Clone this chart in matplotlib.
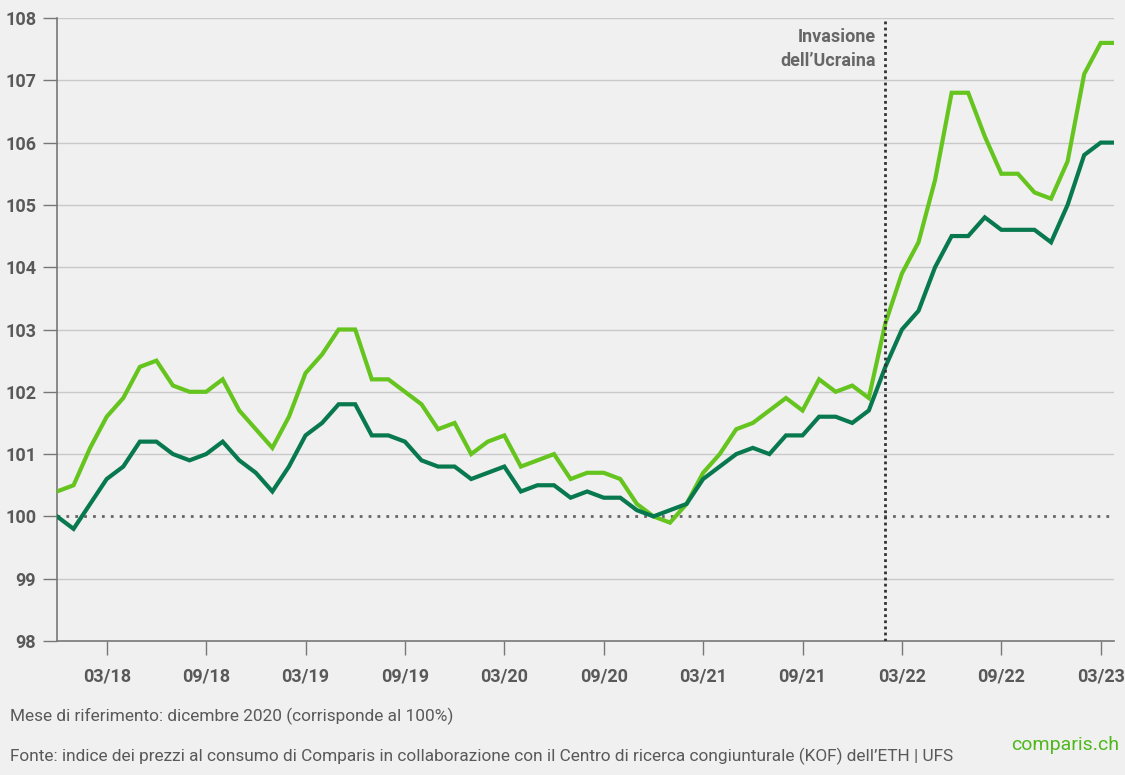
import matplotlib
matplotlib.use("Agg")
import matplotlib.pyplot as plt
import numpy as np

# Months from 12/2017 to 04/2023
months = ["12/17","01/18","02/18","03/18","04/18","05/18","06/18","07/18","08/18","09/18","10/18","11/18",
          "12/18","01/19","02/19","03/19","04/19","05/19","06/19","07/19","08/19","09/19","10/19","11/19",
          "12/19","01/20","02/20","03/20","04/20","05/20","06/20","07/20","08/20","09/20","10/20","11/20",
          "12/20","01/21","02/21","03/21","04/21","05/21","06/21","07/21","08/21","09/21","10/21","11/21",
          "12/21","01/22","02/22","03/22","04/22","05/22","06/22","07/22","08/22","09/22","10/22","11/22",
          "12/22","01/23","02/23","03/23","04/23"]

light_series = [100.4, 100.5, 101.1, 101.6, 101.9, 102.4, 102.5, 102.1, 102.0, 102.0, 102.2, 101.7,
                101.4, 101.1, 101.6, 102.3, 102.6, 103.0, 103.0, 102.2, 102.2, 102.0, 101.8, 101.4,
                101.5, 101.0, 101.2, 101.3, 100.8, 100.9, 101.0, 100.6, 100.7, 100.7, 100.6, 100.2,
                100.0, 99.9, 100.2, 100.7, 101.0, 101.4, 101.5, 101.7, 101.9, 101.7, 102.2, 102.0,
                102.1, 101.9, 103.1, 103.9, 104.4, 105.4, 106.8, 106.8, 106.1, 105.5, 105.5, 105.2,
                105.1, 105.7, 107.1, 107.6, 107.6]

dark_series = [100.0, 99.8, 100.2, 100.6, 100.8, 101.2, 101.2, 101.0, 100.9, 101.0, 101.2, 100.9,
               100.7, 100.4, 100.8, 101.3, 101.5, 101.8, 101.8, 101.3, 101.3, 101.2, 100.9, 100.8,
               100.8, 100.6, 100.7, 100.8, 100.4, 100.5, 100.5, 100.3, 100.4, 100.3, 100.3, 100.1,
               100.0, 100.1, 100.2, 100.6, 100.8, 101.0, 101.1, 101.0, 101.3, 101.3, 101.6, 101.6,
               101.5, 101.7, 102.4, 103.0, 103.3, 104.0, 104.5, 104.5, 104.8, 104.6, 104.6, 104.6,
               104.4, 105.0, 105.8, 106.0, 106.0]

xtick_labels = ["03/18","09/18","03/19","09/19","03/20","09/20","03/21","09/21","03/22","09/22","03/23"]
ytick_values = [98, 99, 100, 101, 102, 103, 104, 105, 106, 107, 108]
invasion_month = "02/22"
reference_value = 100

BG = "#f0f0f0"
LIGHT = "#66c41e"
DARK = "#08784f"
TXT = "#595959"

fig = plt.figure(figsize=(11.25, 7.75), dpi=100, facecolor=BG)
ax = fig.add_axes([57/1125, 1-641/775, (1114-57)/1125, (641-18)/775])
ax.set_facecolor(BG)

x = np.arange(len(months))
ax.plot(x, light_series, color=LIGHT, lw=3, solid_joinstyle="miter", zorder=4)
ax.plot(x, dark_series, color=DARK, lw=3, solid_joinstyle="miter", zorder=5)

ax.set_xlim(0, 63.8)
ax.set_ylim(98, 108)

# grid
for v in ytick_values:
    if v in (98, reference_value):
        continue
    ax.axhline(v, color="#c9c9c9", lw=1, zorder=1)
ax.axhline(reference_value, color="#666666", lw=2, ls=(0, (1, 2.2)), zorder=2)

inv = months.index(invasion_month)
ax.axvline(inv, color="#333333", lw=2, ls=(0, (1, 1.2)), zorder=6)
ax.text(inv - 0.55, 107.84, "Invasione\ndell\u2019Ucraina", ha="right", va="top",
        fontsize=13, fontweight="bold", color="#666666", family="Roboto", linespacing=1.4)

for s in ["top", "right"]:
    ax.spines[s].set_visible(False)
ax.spines["left"].set_color("#777777")
ax.spines["bottom"].set_color("#777777")
ax.spines["left"].set_linewidth(1.2)
ax.spines["bottom"].set_linewidth(1.2)

ax.set_yticks(ytick_values)
ax.set_yticklabels([str(v) for v in ytick_values], fontsize=13, fontweight="bold",
                   color=TXT, family="Roboto")
ax.tick_params(axis="y", length=10, width=1, color="#777777", pad=5)

ax.set_xticks([months.index(m) for m in xtick_labels])
ax.set_xticklabels(xtick_labels, fontsize=13, fontweight="bold", color=TXT, family="Roboto")
ax.tick_params(axis="x", length=10, width=1, color="#777777", pad=9)

fig.text(10/1125, 1-716/775, "Mese di riferimento: dicembre 2020 (corrisponde al 100%)",
         fontsize=12.4, color=TXT, family="Roboto", va="center", ha="left")
fig.text(10/1125, 1-756/775,
         "Fonte: indice dei prezzi al consumo di Comparis in collaborazione con il Centro di ricerca congiunturale (KOF) dell\u2019ETH | UFS",
         fontsize=12.4, color=TXT, family="Roboto", va="center", ha="left")
fig.text(1119/1125, 1-745/775, "comparis.ch", fontsize=14, color="#4fb81c", family="Roboto",
         va="center", ha="right")

fig.savefig("out.png", dpi=100, facecolor=BG)
